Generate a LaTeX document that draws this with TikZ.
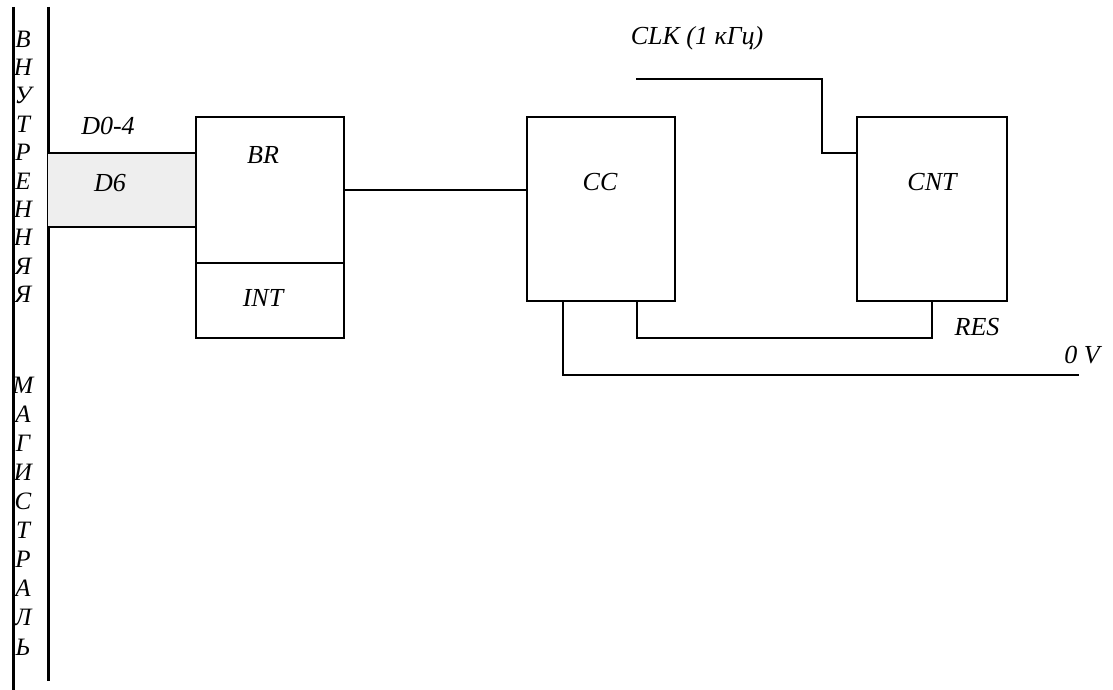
\documentclass[tikz,border=0pt]{standalone}
\usepackage{fontspec}
\setmainfont{Liberation Serif}
\begin{document}
\begin{tikzpicture}[x=1pt,y=-1pt,
  wire/.style={line width=1.8pt,line cap=rect},
  bus/.style={line width=3pt},
  blk/.style={draw,line width=1.8pt,inner sep=0pt},
  lbl/.style={inner sep=0pt,font=\fontsize{26}{30}\selectfont\itshape},
  busletter/.style={inner sep=0pt,font=\fontsize{25}{29}\selectfont\itshape}]
\useasboundingbox[fill=white] (0,0) rectangle (1113,690);
% bus lines
\coordinate (bl1) at (13,7);
\coordinate (bl2) at (13,690);
\coordinate (br1) at (48,7);
\coordinate (br2) at (48,681);
\draw[bus] (bl1) -- (bl2);
\draw[bus] (br1) -- (br2);
% bus letters
\foreach \ch [count=\i] in {В,Н,У,Т,Р,Е,Н,Н,Я,Я}
  \node[busletter] (v\i) at (23,{39+(\i-1)*28.4}) {\ch};
\foreach \ch [count=\i] in {М,А,Г,И,С,Т,Р,А,Л,Ь}
  \node[busletter] (m\i) at (23,{385+(\i-1)*29.1}) {\ch};
% blocks
\node[blk,minimum width=148pt,minimum height=146pt] (BR) at (270,190) {};
\node[blk,minimum width=148pt,minimum height=75pt] (INT) at (270,300.5) {};
\node[blk,minimum width=148pt,minimum height=184pt] (CC) at (601,209) {};
\node[blk,minimum width=150pt,minimum height=184pt] (CNT) at (932,209) {};
% block labels
\node[lbl] (tBR) at (263,155) {BR};
\node[lbl] (tINT) at (263,298) {INT};
\node[lbl] (tCC) at (600,182) {CC};
\node[lbl] (tCNT) at (932,182) {CNT};
% data lines with shaded band
\coordinate (d1) at (48,153);
\coordinate (d2) at (48,227);
\fill[gray!13] (d1) rectangle (d2 -| BR.west);
\draw[wire] (d1) -- (d1 -| BR.west);
\draw[wire] (d2) -- (d2 -| BR.west);
\node[lbl] (tD04) at (108,126) {D0-4};
\node[lbl] (tD6) at (110,183) {D6};
% BR -> CC
\draw[wire] (BR.east) -- (BR.east -| CC.west);
% CLK
\coordinate (clk) at (637,79);
\coordinate (clkturn) at (822,153);
\draw[wire] (clk) -| (clkturn) -- (clkturn -| CNT.west);
\node[lbl] (tCLK) at (697,38) {CLK (1 кГц)};
% RES
\coordinate (res) at (637,338);
\draw[wire] (res |- CC.south) -- (res) -| (CNT.south);
\node[lbl] (tRES) at (977,327) {RES};
% 0 V
\coordinate (gnd) at (563,375);
\coordinate (gndEnd) at (1078,375);
\draw[wire] (gnd |- CC.south) -- (gnd) -- (gndEnd);
\node[lbl] (t0V) at (1082,355) {0 V};
\end{tikzpicture}
\end{document}
